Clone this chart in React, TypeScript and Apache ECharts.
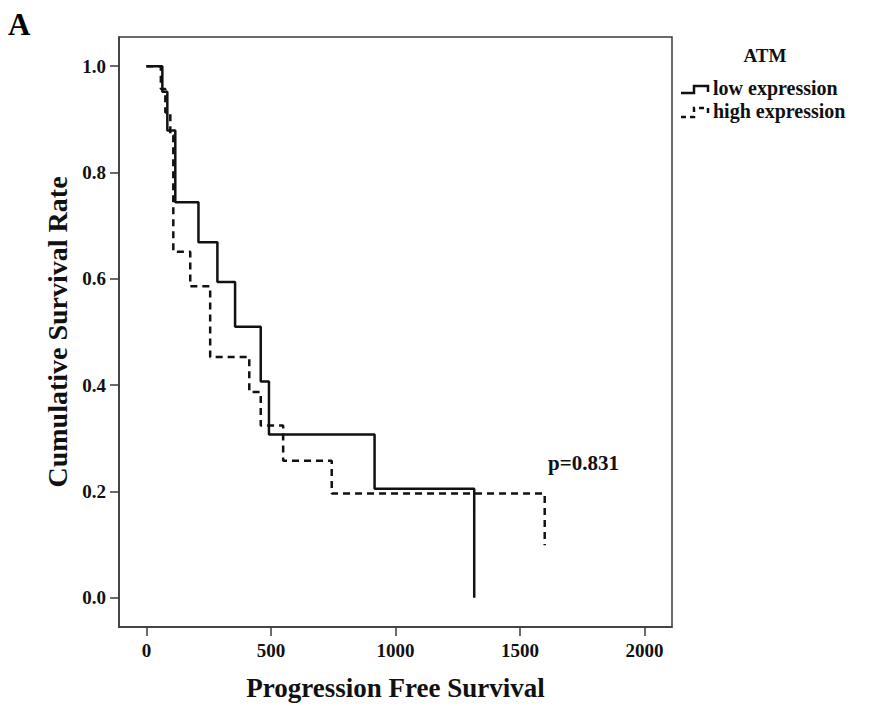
import React, { useEffect, useRef } from "react";
import * as echarts from "echarts";

// Kaplan–Meier step estimates (days, cumulative survival)
const lowTimes = [0, 64, 84, 116, 209, 285, 356, 459, 492, 916, 1316];
const lowSurv = [1, 0.952, 0.879, 0.744, 0.669, 0.594, 0.51, 0.407, 0.307, 0.205, 0];

const highTimes = [0, 58, 76, 96, 108, 176, 256, 413, 459, 549, 744, 1599];
const highSurv = [1, 0.957, 0.913, 0.87, 0.651, 0.586, 0.453, 0.387, 0.324, 0.258, 0.196, 0.099];

const xTicks = [0, 500, 1000, 1500, 2000];
const yTicks = [0, 0.2, 0.4, 0.6, 0.8, 1.0];

const legendTitle = "ATM";
const seriesNames = ["low expression", "high expression"];
const pValueText = "p=0.831";

const FONT = "'Liberation Serif', 'Times New Roman', serif";

function pairs(t: number[], s: number[]) {
  return t.map((v, i) => [v, s[i]]);
}

export default function App() {
  const ref = useRef<HTMLDivElement>(null);

  useEffect(() => {
    if (!ref.current) return;
    const chart = echarts.init(ref.current, null, { renderer: "svg" });
    const axisColor = "#3a3a3a";
    chart.setOption({
      animation: false,
      backgroundColor: "#ffffff",
      grid: {
        left: 119,
        top: 37,
        right: 199,
        bottom: 79,
        show: true,
        borderColor: axisColor,
        borderWidth: 1.5,
      },
      xAxis: {
        type: "value",
        min: -110,
        max: 2110,
        name: "Progression Free Survival",
        nameLocation: "middle",
        nameGap: 47,
        nameTextStyle: { fontFamily: FONT, fontWeight: "bold", fontSize: 27, color: "#111" },
        splitLine: { show: false },
        axisLine: { show: true, onZero: false, lineStyle: { color: axisColor, width: 1.5 } },
        axisTick: { show: true, length: 9, customValues: xTicks, lineStyle: { color: axisColor, width: 1.5 } },
        axisLabel: {
          customValues: xTicks,
          margin: 14,
          fontFamily: FONT,
          fontWeight: "bold",
          fontSize: 19,
          color: "#111",
          formatter: (v: number) => String(v),
        },
      },
      yAxis: {
        type: "value",
        min: -0.055,
        max: 1.055,
        name: "Cumulative Survival Rate",
        nameLocation: "middle",
        nameGap: 48,
        nameTextStyle: { fontFamily: FONT, fontWeight: "bold", fontSize: 28, color: "#111" },
        splitLine: { show: false },
        axisLine: { show: true, onZero: false, lineStyle: { color: axisColor, width: 1.5 } },
        axisTick: { show: true, length: 9, customValues: yTicks, lineStyle: { color: axisColor, width: 1.5 } },
        axisLabel: {
          customValues: yTicks,
          margin: 13,
          fontFamily: FONT,
          fontWeight: "bold",
          fontSize: 19,
          color: "#111",
          formatter: (v: number) => v.toFixed(1),
        },
      },
      series: [
        {
          name: seriesNames[0],
          type: "line",
          step: "end",
          showSymbol: false,
          data: pairs(lowTimes, lowSurv),
          lineStyle: { color: "#111", width: 2.5, type: "solid" },
          z: 3,
        },
        {
          name: seriesNames[1],
          type: "line",
          step: "end",
          showSymbol: false,
          data: pairs(highTimes, highSurv),
          lineStyle: { color: "#111", width: 2.5, type: [7, 5] },
          z: 2,
        },
      ],
      graphic: [
        {
          type: "text",
          left: 8,
          top: 9,
          style: { text: "A", fontFamily: FONT, fontWeight: "bold", fontSize: 31, fill: "#000" },
        },
        {
          type: "text",
          x: 765,
          y: 55,
          style: {
            text: legendTitle,
            fontFamily: FONT,
            fontWeight: "bold",
            fontSize: 19,
            fill: "#111",
            align: "center",
            verticalAlign: "middle",
          },
        },
        {
          type: "polyline",
          shape: { points: [[681, 93], [694, 93], [694, 86], [708, 86], [708, 92]] },
          style: { stroke: "#111", lineWidth: 2.5, fill: "none" },
        },
        {
          type: "text",
          x: 713,
          y: 88,
          style: {
            text: seriesNames[0],
            fontFamily: FONT,
            fontWeight: "bold",
            fontSize: 20,
            fill: "#111",
            verticalAlign: "middle",
          },
        },
        {
          type: "polyline",
          shape: { points: [[681, 117], [694, 117], [694, 108], [708, 108], [708, 114]] },
          style: { stroke: "#111", lineWidth: 2.5, fill: "none", lineDash: [5, 4] },
        },
        {
          type: "text",
          x: 713,
          y: 111,
          style: {
            text: seriesNames[1],
            fontFamily: FONT,
            fontWeight: "bold",
            fontSize: 20,
            fill: "#111",
            verticalAlign: "middle",
          },
        },
        {
          type: "text",
          x: 548,
          y: 463,
          style: {
            text: pValueText,
            fontFamily: FONT,
            fontWeight: "bold",
            fontSize: 21,
            fill: "#111",
            verticalAlign: "middle",
          },
        },
      ],
    });
    return () => chart.dispose();
  }, []);

  return (
    <div
      ref={ref}
      style={{ position: "fixed", left: 0, top: 0, width: 871, height: 706, background: "#fff" }}
    />
  );
}
